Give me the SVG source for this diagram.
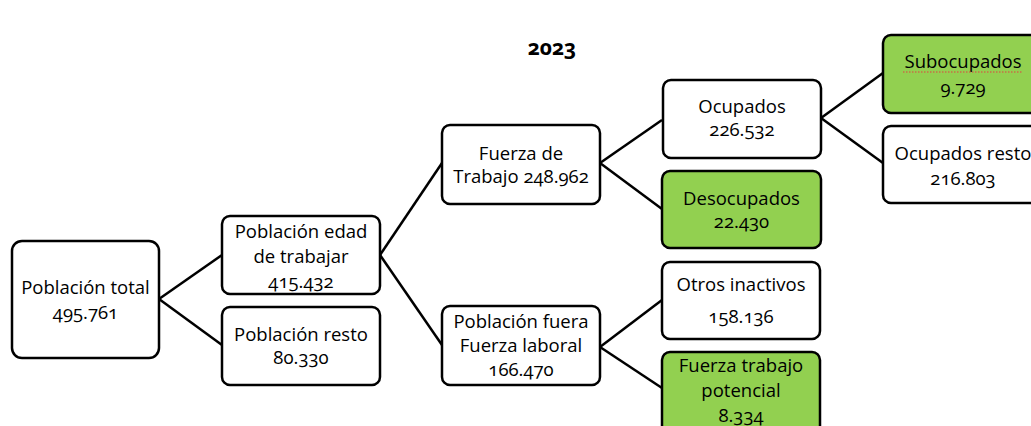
<svg xmlns="http://www.w3.org/2000/svg" width="1031" height="426" viewBox="0 0 1031 426">
<style>
.box{fill:#ffffff;stroke:#000000;stroke-width:2.5}
.green{fill:#92D050}
.t{font-family:"Open Sans","Noto Sans","Liberation Sans",sans-serif;font-size:18.5px;fill:#000000;text-anchor:middle;font-variant-numeric:oldstyle-nums}
.conn line{stroke:#000000;stroke-width:2.5}
.title{font-family:"Open Sans","Noto Sans","Liberation Sans",sans-serif;font-size:21px;font-weight:bold;text-anchor:middle;fill:#000000;font-variant-numeric:oldstyle-nums}
</style>
<rect width="1031" height="426" fill="#ffffff"/>
<text class="title" x="552" y="55">2023</text>
<g class="conn" id="connectors">
<line x1="159" y1="299" x2="222" y2="255"/>
<line x1="159" y1="299" x2="222" y2="345"/>
<line x1="380" y1="255" x2="442" y2="163"/>
<line x1="380" y1="255" x2="442" y2="345"/>
<line x1="600" y1="163" x2="662" y2="120"/>
<line x1="600" y1="163" x2="662" y2="209"/>
<line x1="600" y1="347" x2="662" y2="300"/>
<line x1="600" y1="347" x2="662" y2="388"/>
<line x1="821" y1="118" x2="883" y2="73"/>
<line x1="821" y1="118" x2="883" y2="163"/>
</g>
<g id="poblacion-total">
<rect class="box" x="12" y="241" width="147" height="117" rx="10"/>
<text class="t" x="85.5" y="294">Población total</text>
<text class="t" x="85.5" y="319">495.761</text>
</g>
<g id="poblacion-edad">
<rect class="box" x="222" y="216" width="158" height="78" rx="8"/>
<text class="t" x="301" y="238">Población edad</text>
<text class="t" x="301" y="263">de trabajar</text>
<text class="t" x="301" y="288">415.432</text>
</g>
<g id="poblacion-resto">
<rect class="box" x="222" y="307" width="158" height="78" rx="8"/>
<text class="t" x="301" y="341">Población resto</text>
<text class="t" x="301" y="364">80.330</text>
</g>
<g id="fuerza-trabajo">
<rect class="box" x="442" y="125" width="158" height="79" rx="8"/>
<text class="t" x="521" y="160">Fuerza de</text>
<text class="t" x="521" y="183">Trabajo 248.962</text>
</g>
<g id="poblacion-fuera">
<rect class="box" x="442" y="306" width="158" height="79" rx="8"/>
<text class="t" x="521" y="328">Población fuera</text>
<text class="t" x="521" y="352">Fuerza laboral</text>
<text class="t" x="521" y="376">166.470</text>
</g>
<g id="ocupados">
<rect class="box" x="663" y="80" width="158" height="78" rx="8"/>
<text class="t" x="742" y="113">Ocupados</text>
<text class="t" x="742" y="136">226.532</text>
</g>
<g id="desocupados">
<rect class="box green" x="662" y="171" width="159" height="77" rx="8"/>
<text class="t" x="741.5" y="205">Desocupados</text>
<text class="t" x="741.5" y="228">22.430</text>
</g>
<g id="otros-inactivos">
<rect class="box" x="662" y="262" width="158" height="77" rx="8"/>
<text class="t" x="741" y="291">Otros inactivos</text>
<text class="t" x="741" y="323">158.136</text>
</g>
<g id="fuerza-trabajo-potencial">
<rect class="box green" x="662" y="352" width="158" height="84" rx="8"/>
<text class="t" x="741" y="372">Fuerza trabajo</text>
<text class="t" x="741" y="397">potencial</text>
<text class="t" x="741" y="422">8.334</text>
</g>
<g id="subocupados">
<rect class="box green" x="883" y="35" width="160" height="78" rx="8"/>
<text class="t" x="963" y="68">Subocupados</text>
<line x1="903" y1="72" x2="1023" y2="72" stroke="#e04040" stroke-width="1" stroke-dasharray="1.5,1.5"/>
<text class="t" x="963" y="94">9.729</text>
</g>
<g id="ocupados-resto">
<rect class="box" x="883" y="126" width="160" height="77" rx="8"/>
<text class="t" x="963" y="160">Ocupados resto</text>
<text class="t" x="963" y="185">216.803</text>
</g>
</svg>
